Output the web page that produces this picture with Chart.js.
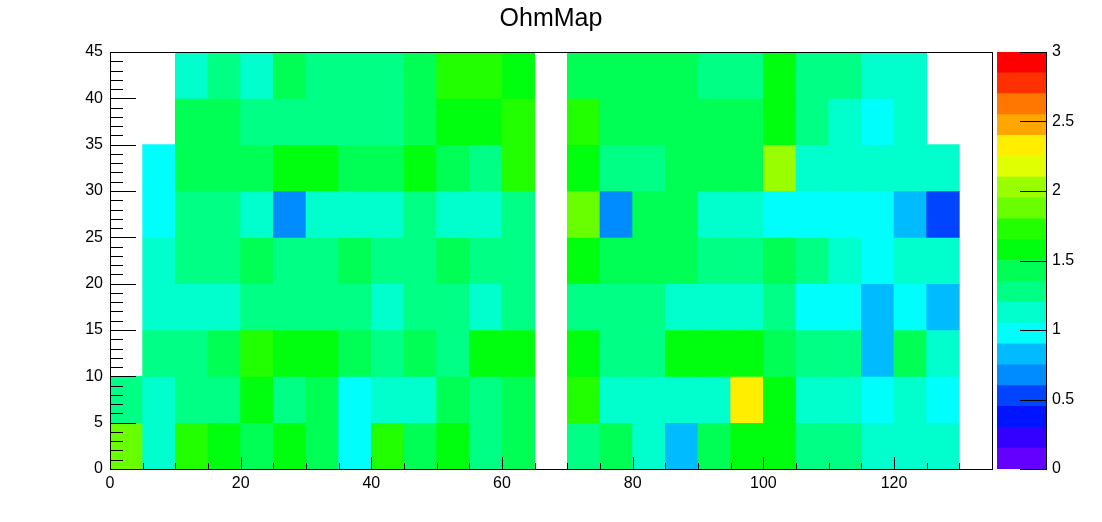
<!DOCTYPE html>
<html>
<head>
<meta charset="utf-8">
<script src="https://cdn.jsdelivr.net/npm/chart.js@4"></script>
<style>
  html, body { margin: 0; padding: 0; background: #fff; }
  #wrap { position: relative; width: 1102px; height: 522px; }
  #map { position: absolute; left: 0; top: 0; }
  #bar { position: absolute; left: 990px; top: 0; }
</style>
</head>
<body>
<div id="wrap">
  <canvas id="map" width="1102" height="522"></canvas>
  <canvas id="bar" width="112" height="522"></canvas>
</div>
<script>
// bins: lower edges, all bins 5 wide
const binWidth = 5;
const xBins = [0, 5, 10, 15, 20, 25, 30, 35, 40, 45, 50, 55, 60, 65, 70, 75, 80, 85, 90, 95, 100, 105, 110, 115, 120, 125, 130];
const yBins = [0, 5, 10, 15, 20, 25, 30, 35, 40];

// one array per y bin, values along x (null = empty bin)
const ohmY0  = [1.87, 1.13, 1.71, 1.58, 1.43, 1.59, 1.41, 0.99, 1.73, 1.42, 1.57, 1.29, 1.44, null, 1.27, 1.42, 1.14, 0.83, 1.43, 1.58, 1.60, 1.28, 1.30, 1.12, 1.15, 1.13, null];
const ohmY5  = [1.31, 1.14, 1.28, 1.29, 1.58, 1.27, 1.44, 0.98, 1.13, 1.12, 1.42, 1.30, 1.41, null, 1.72, 1.13, 1.12, 1.14, 1.13, 2.33, 1.59, 1.12, 1.14, 0.99, 1.13, 0.97, null];
const ohmY10 = [null, 1.29, 1.28, 1.42, 1.71, 1.59, 1.58, 1.43, 1.28, 1.42, 1.30, 1.58, 1.57, null, 1.59, 1.28, 1.29, 1.58, 1.60, 1.57, 1.43, 1.29, 1.31, 0.84, 1.45, 1.13, null];
const ohmY15 = [null, 1.13, 1.12, 1.14, 1.28, 1.29, 1.27, 1.30, 1.12, 1.28, 1.29, 1.13, 1.28, null, 1.27, 1.29, 1.28, 1.13, 1.12, 1.14, 1.30, 0.98, 0.99, 0.82, 0.97, 0.83, null];
const ohmY20 = [null, 1.13, 1.28, 1.29, 1.42, 1.28, 1.30, 1.43, 1.29, 1.28, 1.42, 1.29, 1.27, null, 1.58, 1.44, 1.42, 1.43, 1.29, 1.30, 1.44, 1.31, 1.14, 0.98, 1.13, 1.12, null];
const ohmY25 = [null, 0.98, 1.29, 1.28, 1.13, 0.69, 1.14, 1.12, 1.13, 1.28, 1.13, 1.12, 1.29, null, 1.88, 0.68, 1.42, 1.43, 1.12, 1.13, 0.99, 0.98, 0.97, 0.99, 0.83, 0.53, null];
const ohmY30 = [null, 0.98, 1.43, 1.42, 1.44, 1.59, 1.58, 1.42, 1.43, 1.57, 1.43, 1.29, 1.72, null, 1.59, 1.28, 1.27, 1.42, 1.43, 1.44, 2.03, 1.13, 1.12, 1.14, 1.12, 1.13, null];
const ohmY35 = [null, null, 1.42, 1.43, 1.29, 1.28, 1.28, 1.30, 1.29, 1.42, 1.58, 1.59, 1.72, null, 1.71, 1.43, 1.42, 1.44, 1.42, 1.43, 1.58, 1.30, 1.13, 0.98, 1.12, null, null];
const ohmY40 = [null, null, 1.13, 1.29, 1.12, 1.43, 1.28, 1.29, 1.30, 1.42, 1.71, 1.73, 1.58, null, 1.42, 1.43, 1.44, 1.42, 1.29, 1.28, 1.58, 1.29, 1.28, 1.13, 1.12, null, null];

// tick labels
const xTicks = [0, 20, 40, 60, 80, 100, 120];
const yTicks = [0, 5, 10, 15, 20, 25, 30, 35, 40, 45];
const zTicks = [0, 0.5, 1, 1.5, 2, 2.5, 3];

// colour scale: 20 contour levels from 0 to 3
const levelEdges = [0, 0.15, 0.3, 0.45, 0.6, 0.75, 0.9, 1.05, 1.2, 1.35, 1.5, 1.65, 1.8, 1.95, 2.1, 2.25, 2.4, 2.55, 2.7, 2.85, 3];
const levelColors = ['#6300ff', '#3300ff', '#0014ff', '#0044ff', '#008bff', '#00bbff', '#00fffc', '#00ffcc', '#00ff85', '#00ff55',
                     '#00ff0e', '#22ff00', '#69ff00', '#99ff00', '#e0ff00', '#ffee00', '#ffa700', '#ff7700', '#ff3000', '#ff0000'];

const ohmRows = [ohmY0, ohmY5, ohmY10, ohmY15, ohmY20, ohmY25, ohmY30, ohmY35, ohmY40];

Chart.defaults.color = '#000';
Chart.defaults.font.family = '"Liberation Sans", Arial, sans-serif';
Chart.defaults.font.size = 16;

function colorFor(v) {
  if (v == null) return 'rgba(0,0,0,0)';
  for (let k = 0; k < levelColors.length; k++) {
    if (v < levelEdges[k + 1]) return levelColors[k];
  }
  return levelColors[levelColors.length - 1];
}

const cells = [];
ohmRows.forEach((row, j) => {
  row.forEach((v, i) => {
    if (v === null) return;
    cells.push({ x: xBins[i] + binWidth / 2, y: [yBins[j], yBins[j] + binWidth], v: v });
  });
});

// ROOT-like frame with inward tick marks, drawn over the cells
const mapAxes = {
  id: 'mapAxes',
  afterDatasetsDraw(chart) {
    const { ctx, chartArea: a, scales: { x, y } } = chart;
    ctx.save();
    ctx.strokeStyle = '#000';
    ctx.lineWidth = 1;
    ctx.beginPath();
    for (let v = 0; v <= 45; v++) {
      const py = Math.round(y.getPixelForValue(v)) + 0.5;
      ctx.moveTo(a.left, py);
      ctx.lineTo(a.left + (v % 5 === 0 ? 26 : 13), py);
    }
    for (let v = 0; v <= 130; v += 5) {
      const px = Math.round(x.getPixelForValue(v)) + 0.5;
      ctx.moveTo(px, a.bottom);
      ctx.lineTo(px, a.bottom - (v % 20 === 0 ? 12 : 6));
    }
    ctx.stroke();
    ctx.strokeRect(Math.round(a.left) + 0.5, Math.round(a.top) + 0.5,
                   Math.round(a.right) - Math.round(a.left), Math.round(a.bottom) - Math.round(a.top));
    ctx.restore();
  }
};

new Chart(document.getElementById('map'), {
  type: 'bar',
  data: {
    datasets: [{
      data: cells,
      backgroundColor: ctx => colorFor(ctx.raw && ctx.raw.v),
      borderWidth: 0,
      barPercentage: 1,
      categoryPercentage: 1
    }]
  },
  options: {
    responsive: false,
    animation: false,
    devicePixelRatio: 1,
    layout: { padding: 0 },
    plugins: {
      legend: { display: false },
      tooltip: { enabled: false },
      title: {
        display: true,
        text: 'OhmMap',
        font: { size: 25, weight: 'normal' },
        padding: { top: 4, bottom: 18 }
      }
    },
    scales: {
      x: {
        type: 'linear',
        min: 0,
        max: 135,
        offset: false,
        afterBuildTicks: s => { s.ticks = xTicks.map(v => ({ value: v })); },
        afterFit: s => { s.height = 53; },
        grid: { display: false, drawTicks: false },
        border: { display: false },
        ticks: { padding: 5, maxRotation: 0, autoSkip: false }
      },
      y: {
        min: 0,
        max: 45,
        afterBuildTicks: s => { s.ticks = yTicks.map(v => ({ value: v })); },
        afterFit: s => { s.width = 110; },
        grid: { display: false, drawTicks: false },
        border: { display: false },
        ticks: { padding: 7, autoSkip: false }
      },
      // empty right-hand strip reserved for the colour bar
      gap: {
        position: 'right',
        afterFit: s => { s.width = 110; },
        grid: { display: false, drawTicks: false },
        border: { display: false },
        ticks: { display: false }
      }
    }
  },
  plugins: [mapAxes]
});

// colour bar
const barAxis = {
  id: 'barAxis',
  afterDatasetsDraw(chart) {
    const { ctx, chartArea: a, scales: { y } } = chart;
    ctx.save();
    ctx.strokeStyle = '#000';
    ctx.lineWidth = 1;
    ctx.beginPath();
    zTicks.forEach(v => {
      const py = Math.round(y.getPixelForValue(v)) + 0.5;
      ctx.moveTo(a.right, py);
      ctx.lineTo(a.right - 26, py);
    });
    ctx.stroke();
    ctx.restore();
  }
};

new Chart(document.getElementById('bar'), {
  type: 'bar',
  data: {
    labels: [''],
    datasets: levelColors.map((c, k) => ({
      data: [[levelEdges[k], levelEdges[k + 1]]],
      backgroundColor: c,
      borderWidth: 0,
      grouped: false,
      barPercentage: 1,
      categoryPercentage: 1
    }))
  },
  options: {
    responsive: false,
    animation: false,
    devicePixelRatio: 1,
    layout: { padding: { left: 7, right: 0, top: 52, bottom: 53 } },
    plugins: { legend: { display: false }, tooltip: { enabled: false } },
    scales: {
      x: { display: false },
      y: {
        position: 'right',
        min: 0,
        max: 3,
        afterBuildTicks: s => { s.ticks = zTicks.map(v => ({ value: v })); },
        afterFit: s => { s.width = 56; },
        grid: { display: false, drawTicks: false },
        border: { display: true, color: '#000', width: 1 },
        ticks: { padding: 6, autoSkip: false, callback: v => String(v) }
      }
    }
  },
  plugins: [barAxis]
});
</script>
</body>
</html>
